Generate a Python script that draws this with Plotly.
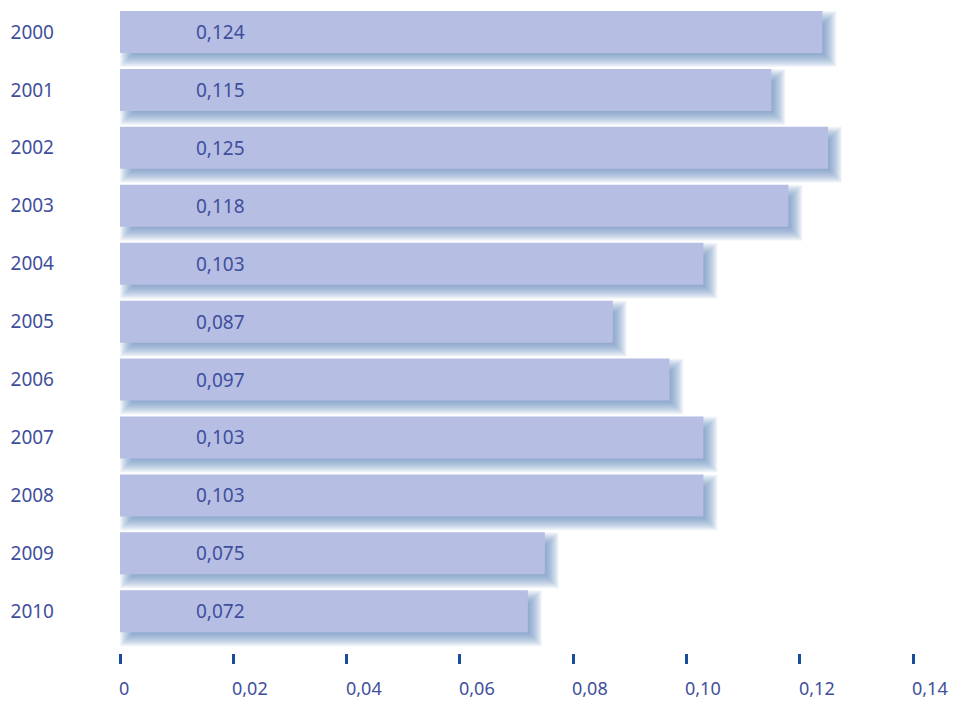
import plotly.graph_objects as go

years = ["2000", "2001", "2002", "2003", "2004", "2005", "2006", "2007", "2008", "2009", "2010"]
values = [0.124, 0.115, 0.125, 0.118, 0.103, 0.087, 0.097, 0.103, 0.103, 0.075, 0.072]
labels = ["0,124", "0,115", "0,125", "0,118", "0,103", "0,087", "0,097", "0,103", "0,103", "0,075", "0,072"]
xticks = [0, 0.02, 0.04, 0.06, 0.08, 0.10, 0.12, 0.14]
xtick_text = ["0", "0,02", "0,04", "0,06", "0,08", "0,10", "0,12", "0,14"]

W, H = 954, 702
ml, mr, mt, mb = 120, 41, 3, 49
xmax = 0.14
yr_top, yr_bot = -0.5, 10.72
plot_w = W - ml - mr
plot_h = H - mt - mb
px_x = xmax / plot_w
px_y = (yr_bot - yr_top) / plot_h

bar_w = 0.725
font_col = "#3f4f9c"
fam = "Noto Sans, Open Sans, sans-serif"
fsize = 19

fig = go.Figure()
fig.add_trace(go.Bar(
    x=values, y=list(range(len(years))), orientation="h",
    marker=dict(color="#b6bee3", line=dict(width=0)),
    width=bar_w, hoverinfo="skip",
))

# blurred drop shadow built from layered translucent rectangles
shapes = []
dx, dy = 7, 7
for i, v in enumerate(values):
    for e in range(-8, 8):
        shapes.append(dict(
            type="rect", layer="below", xref="x", yref="y",
            x0=max(0, (dx - e)) * px_x, x1=v + (dx + e) * px_x,
            y0=i - bar_w / 2 + (dy - e) * px_y, y1=i + bar_w / 2 + (dy + e) * px_y,
            fillcolor="#5b86c0", opacity=0.075, line=dict(width=0),
        ))

annotations = []
for i, t in enumerate(labels):
    annotations.append(dict(
        x=0.0177, y=i, xref="x", yref="y", text=t, showarrow=False,
        xanchor="center", yanchor="middle",
        font=dict(family=fam, size=fsize, color=font_col),
    ))
for tv, tt in zip(xticks, xtick_text):
    annotations.append(dict(
        x=tv / xmax, y=0, xref="paper", yref="paper", text=tt, showarrow=False,
        xanchor="left", yanchor="top", yshift=-22, xshift=-2, borderpad=0,
        font=dict(family=fam, size=18, color=font_col),
    ))

fig.update_layout(
    width=W, height=H,
    margin=dict(l=ml, r=mr, t=mt, b=mb),
    paper_bgcolor="white", plot_bgcolor="white",
    showlegend=False,
    shapes=shapes, annotations=annotations,
    xaxis=dict(
        range=[0, xmax], tickvals=xticks, showticklabels=False,
        showgrid=False, zeroline=False, showline=False,
        ticks="outside", ticklen=10, tickwidth=2.5, tickcolor="#1b4c9c",
    ),
    yaxis=dict(
        range=[yr_bot, yr_top], tickvals=list(range(len(years))), ticktext=years,
        showgrid=False, zeroline=False, showline=False, ticks="",
        ticklabelstandoff=65,
        tickfont=dict(family=fam, size=fsize, color=font_col),
    ),
)

fig.write_html("out.html")
